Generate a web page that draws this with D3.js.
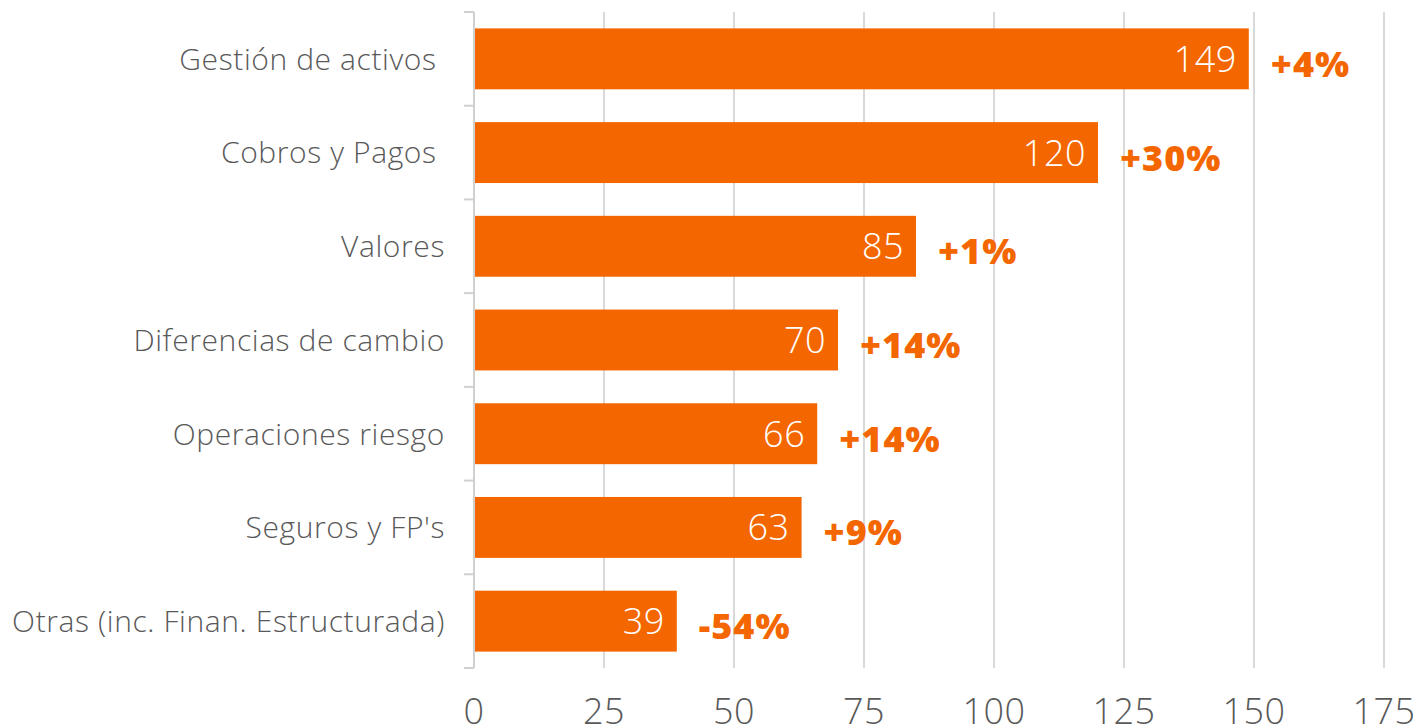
<!DOCTYPE html>
<html>
<head>
<meta charset="utf-8">
<script src="https://cdn.jsdelivr.net/npm/d3@7"></script>
<style>
  body { margin: 0; background: #fff; }
  text { font-family: "Open Sans", sans-serif; }
</style>
</head>
<body>
<svg id="chart"></svg>
<script>
// data
const categories = [
    "Gestión de activos ",
    "Cobros y Pagos ",
    "Valores",
    "Diferencias de cambio",
    "Operaciones riesgo",
    "Seguros y FP's",
    "Otras (inc. Finan. Estructurada)"
];
const values = [149, 120, 85, 70, 66, 63, 39];
const changes = ["+4%", "+30%", "+1%", "+14%", "+14%", "+9%", "-54%"];
const xTicks = [0, 25, 50, 75, 100, 125, 150, 175];

const width = 1422, height = 728;
const margin = { top: 12, right: 38, bottom: 60, left: 474 };
const orange = "#f46700", grey = "#595959";

const svg = d3.select("#chart")
    .attr("width", width)
    .attr("height", height);

const x = d3.scaleLinear()
    .domain([0, 175])
    .range([margin.left, width - margin.right]);

const y = d3.scaleBand()
    .domain(categories)
    .range([margin.top, height - margin.bottom])
    .paddingInner(0.35)
    .paddingOuter(0.175);

// gridlines
svg.append("g")
    .selectAll("line")
    .data(xTicks.slice(1))
    .join("line")
    .attr("x1", d => x(d)).attr("x2", d => x(d))
    .attr("y1", margin.top).attr("y2", height - margin.bottom)
    .attr("stroke", "#d9d9d9")
    .attr("stroke-width", 2);

// left axis line + ticks between categories
const step = y.step();
const bounds = d3.range(categories.length + 1).map(i => margin.top + i * step);
svg.append("line")
    .attr("x1", margin.left).attr("x2", margin.left)
    .attr("y1", margin.top).attr("y2", height - margin.bottom)
    .attr("stroke", "#d0d0d0").attr("stroke-width", 2);
svg.append("g")
    .selectAll("line")
    .data(bounds)
    .join("line")
    .attr("x1", margin.left - 10).attr("x2", margin.left)
    .attr("y1", d => d).attr("y2", d => d)
    .attr("stroke", "#d0d0d0").attr("stroke-width", 2);

// category labels
svg.append("g")
    .selectAll("text")
    .data(categories)
    .join("text")
    .attr("x", margin.left - 29)
    .attr("y", d => y(d) + y.bandwidth() / 2)
    .attr("dy", "0.36em")
    .attr("text-anchor", "end")
    .attr("fill", grey)
    .attr("font-size", 30)
    .attr("font-weight", 300)
    .attr("letter-spacing", 0.6)
    .style("white-space", "pre")
    .text(d => d);

// bars
svg.append("g")
    .selectAll("rect")
    .data(values)
    .join("rect")
    .attr("x", x(0) + 1)
    .attr("y", (d, i) => y(categories[i]))
    .attr("width", d => x(d) - x(0) - 1)
    .attr("height", y.bandwidth())
    .attr("fill", orange);

// value labels
svg.append("g")
    .selectAll("text")
    .data(values)
    .join("text")
    .attr("x", d => x(d) - 12)
    .attr("y", (d, i) => y(categories[i]) + y.bandwidth() / 2)
    .attr("dy", "0.36em")
    .attr("text-anchor", "end")
    .attr("fill", "#fff")
    .attr("font-size", 36)
    .attr("font-weight", 300)
    .attr("letter-spacing", 0.5)
    .text(d => d);

// change labels
svg.append("g")
    .selectAll("text")
    .data(changes)
    .join("text")
    .attr("x", (d, i) => x(values[i]) + 22)
    .attr("y", (d, i) => y(categories[i]) + y.bandwidth() / 2 + 5)
    .attr("dy", "0.36em")
    .attr("fill", orange)
    .attr("font-size", 36)
    .attr("font-weight", 800)
    .attr("letter-spacing", 1)
    .text(d => d);

// bottom tick labels
svg.append("g")
    .selectAll("text")
    .data(xTicks)
    .join("text")
    .attr("x", d => x(d))
    .attr("y", 724)
    .attr("text-anchor", "middle")
    .attr("fill", grey)
    .attr("font-size", 36)
    .attr("font-weight", 300)
    .attr("letter-spacing", 0.5)
    .text(d => d);
</script>
</body>
</html>
